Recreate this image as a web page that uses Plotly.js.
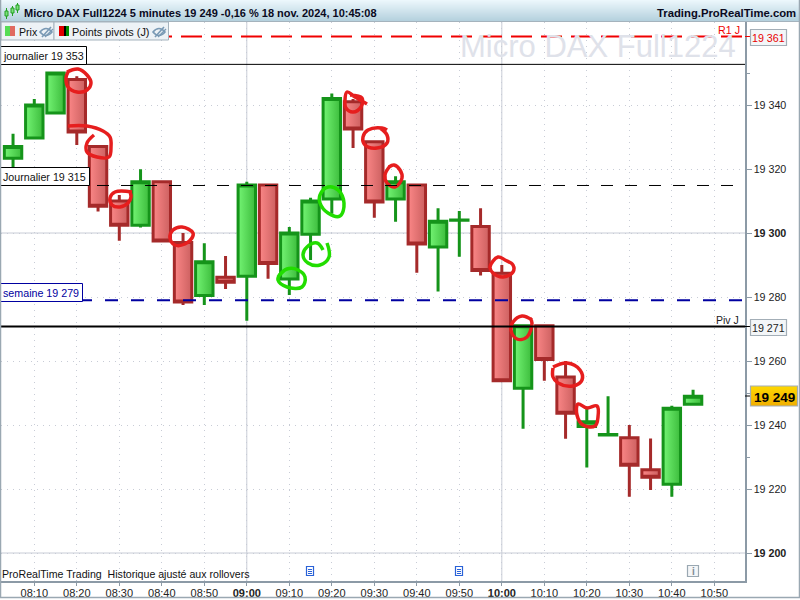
<!DOCTYPE html>
<html><head><meta charset="utf-8">
<script src="https://cdn.plot.ly/plotly-3.0.1.min.js"></script>
<style>html,body{margin:0;padding:0;background:#fff}#c{width:800px;height:600px}</style>
</head><body><div id="c"></div>
<script>
// ---- data ----
const times = ["08:05","08:10","08:15","08:20","08:25","08:30","08:35","08:40","08:45","08:50","08:55",
 "09:00","09:05","09:10","09:15","09:20","09:25","09:30","09:35","09:40","09:45","09:50","09:55",
 "10:00","10:05","10:10","10:15","10:20","10:25","10:30","10:35","10:40","10:45"];
const opens  = [19323.4,19329.7,19337.5,19348,19327,19310,19302.4,19316,19297,19280.5,19286.2,
 19286.5,19315,19285.6,19299.6,19310.6,19341,19328.5,19310.6,19315,19295.6,19304,19302,
 19287.4,19251.5,19271,19255,19239.5,19236.9,19236,19226,19221.5,19246.5];
const highs  = [19331,19341.9,19350,19349,19327,19311.9,19319.9,19316,19300,19296.8,19292.8,
 19316,19315,19301.9,19311,19343.6,19341.9,19329,19317.7,19315,19307.7,19306.9,19307.7,
 19290,19271,19271,19260,19245.7,19249,19240,19235.8,19246,19251];
const lows   = [19320.6,19329.7,19337.5,19327.5,19306.7,19297.6,19301.7,19297.5,19277.5,19277.5,19282.5,
 19272.6,19285.7,19280.6,19291.6,19306,19326.6,19304.8,19303.5,19287.6,19281.7,19292.6,19286.7,
 19253.8,19238.8,19253.8,19235.7,19226.7,19236.9,19217.6,19219.7,19217.6,19246.5];
const closes = [19327,19340,19350,19331.6,19308.4,19302.4,19316,19297.5,19278.4,19291,19284.6,
 19315,19290.5,19300,19310,19342,19332.5,19309.7,19316,19296.6,19303.7,19304.1,19288.3,
 19253.8,19271,19260.5,19243.7,19241,19237,19227.4,19223.7,19245.2,19249];
const xTickTimes = ["08:10","08:20","08:30","08:40","08:50","09:00","09:10","09:20","09:30","09:40","09:50",
 "10:00","10:10","10:20","10:30","10:40","10:50"];
const xBoldTimes = ["09:00","10:00"];
const yTickVals = [19200,19220,19240,19260,19280,19300,19320,19340];
const yBoldVals = [19200,19300];
const yMinorVals = [19230,19250,19350];
const levelR1 = 19361.4, levelJ1 = 19352.7, levelJ2 = 19314.85, levelW = 19279, levelPiv = 19270.8, lastPrice = 19249;
const titleLeft = "Micro DAX Full1224 5 minutes 19 249 -0,16 % 18 nov. 2024, 10:45:08";
const titleRight = "Trading.ProRealTime.com";
const watermark = "Micro DAX Full1224";
const footer = "ProRealTime Trading  Historique ajusté aux rollovers";

// hand-drawn rings, in window pixels
const redRings = [
 [[67,72],[78,69],[87,75],[91,83],[87,90],[77,92],[68,87],[66,78],[68,72]],
 [[68,126],[87,126],[103,131],[110,137],[111,147],[109,157],[97,157],[87,152],[87,143],[94,135]],
 [[132,192],[115,192],[110,198],[112,205],[120,207],[128,203],[131,197],[130,192]],
 [[193,233],[182,227],[173,230],[170,238],[175,245],[185,244],[192,238],[193,233]],
 [[367,104],[355,97],[347,92],[345,100],[346,108],[353,112],[361,107],[362,98],[350,95]],
 [[387,130],[382,128],[368,130],[363,137],[365,145],[377,148],[387,143],[387,135],[380,128]],
 [[390,166],[385,175],[387,183],[395,187],[402,178],[400,170],[394,165],[389,167]],
 [[490,267],[498,257],[505,260],[513,265],[513,272],[503,277],[493,273],[490,267]],
 [[532,320],[522,316],[513,322],[511,330],[517,339],[527,337],[532,323],[530,318]],
 [[553,367],[567,363],[580,370],[582,380],[573,386],[558,383],[553,377],[553,368]],
 [[578,404],[587,408],[597,406],[598,417],[595,426],[583,425],[577,415],[578,404]]
];
const greenRings = [
 [[278,277],[287,269],[298,270],[305,277],[302,287],[287,287],[278,280],[280,274]],
 [[327,243],[329,257],[320,265],[308,263],[303,255],[307,247],[317,243],[323,250]],
 [[320,195],[328,187],[338,190],[344,203],[340,216],[328,213],[320,203],[320,195]]
];

// ---- layout helpers ----
const DAY = "2024-11-18 ";
const L=1, R=745, T=22, B=581;
const px = x => (x-L)/(R-L);
const py = y => (B-y)/(B-T);
const d = t => DAY+t+":00";
const GREEN_LINE="#15941a", RED_LINE="#a52a2a";
const AX="#8c9aa6", GRID="#c8ccd6";

const shapes=[], annotations=[];
function rect(x0,y0,x1,y1,fill,line,lw,layer){
  shapes.push({type:'rect',xref:'paper',yref:'paper',x0:px(x0),x1:px(x1),y0:py(y0),y1:py(y1),
    fillcolor:fill||'rgba(0,0,0,0)',line:{color:line||'rgba(0,0,0,0)',width:line?(lw||1):0},layer:layer||'above'});
}
function seg(x0,y0,x1,y1,c,w,layer){
  shapes.push({type:'line',xref:'paper',yref:'paper',x0:px(x0),x1:px(x1),y0:py(y0),y1:py(y1),
    line:{color:c,width:w||1},layer:layer||'above'});
}
function level(v,c,w,dash){
  shapes.push({type:'line',xref:'paper',yref:'y',x0:0,x1:1,y0:v,y1:v,line:{color:c,width:w,dash:dash||'solid'},layer:'above'});
}
function txt(x,y,s,size,color,anchor,extra){
  annotations.push(Object.assign({xref:'paper',yref:'paper',x:px(x),y:py(y),text:s,showarrow:false,
    xanchor:anchor||'left',yanchor:'middle',xshift:0,font:{family:'Liberation Sans, Arial, sans-serif',size:size,color:color},
    borderpad:0,borderwidth:0},extra||{}));
}

// solid grid
yBoldVals.forEach(v=>shapes.push({type:'line',xref:'paper',yref:'y',x0:0,x1:1,y0:v,y1:v,line:{color:GRID,width:1},layer:'below'}));
xBoldTimes.forEach(t=>shapes.push({type:'line',xref:'x',yref:'paper',x0:d(t),x1:d(t),y0:0,y1:1,line:{color:GRID,width:1},layer:'below'}));

// watermark
txt(736,47,watermark,31,"#dfe2ea",'right',{captureevents:false});

// levels
level(levelR1,"#f00000",2,"21px,9px");
level(levelJ1,"#000000",1);
level(levelJ2,"#000000",1,"12px,12px");
level(levelW,"#0000a0",2,"13px,13px");
level(levelPiv,"#000000",2);

// level labels
rect(0.5,46.5,86.5,64.5,"#fff","#000",1);
txt(2.5,56,"journalier 19 353",10.7,"#111");
rect(0.5,167.5,89.5,185.5,"#fff","#000",1);
txt(2.5,177,"Journalier 19 315",10.7,"#111");
rect(0.5,283.5,82.5,301.5,"#fff","#0000a0",1);
txt(2.5,293,"semaine 19 279",10.7,"#0000a0");
txt(740,30,"R1 J",10.7,"#f00000",'right');
txt(739,320,"Piv J",10.5,"#222",'right');

// title bar (gradient in 1px bands)
for(let i=0;i<22;i++){
  const f=i/21, c=`rgb(${Math.round(236-58*f)},${Math.round(247-40*f)},${Math.round(252-32*f)})`;
  rect(0,i,800,i+1,c,null);
}
seg(0,21.5,800,21.5,"#a5b3bd",1);
// window icon
seg(6.5,8,6.5,19,"#22a022",1); rect(5,11,8,16,"#7be07b","#22a022",1);
seg(12.5,6,12.5,16,"#22a022",1); rect(11,8,14,13,"#7be07b","#22a022",1);
seg(17.5,3,17.5,13,"#22a022",1); rect(16,5,19,10,"#7be07b","#22a022",1);
txt(24,13,'<b>'+titleLeft+'</b>',11,"#0a0a1e",'left');
txt(796,13,'<b>'+titleRight+'</b>',11.3,"#0a0a1e",'right');

// legend strip
rect(1,22,54,40,"#edf2f6","#a5b3bd",1);
rect(54,22,168.5,40,"#edf2f6","#a5b3bd",1);
rect(5,26,10,36,"#55dd55",null);
rect(10,26,15,36,"#e06a60",null);
rect(59,26,64,36,"#e00000",null);
rect(64,26,66,36,"#000",null);
rect(66,26,69,36,"#009000",null);
txt(18.5,32,"Prix",10.6,"#111");
txt(72,32,"Points pivots (J)",10.9,"#111");
function eye(cx,cy){
  shapes.push({type:'path',xref:'paper',yref:'paper',layer:'above',
    path:`M ${px(cx-6)} ${py(cy)} Q ${px(cx)} ${py(cy-7)} ${px(cx+6)} ${py(cy)} Q ${px(cx)} ${py(cy+7)} ${px(cx-6)} ${py(cy)} Z`,
    line:{color:"#7a9ab5",width:1.6},fillcolor:"rgba(0,0,0,0)"});
  seg(cx-4,cy+5,cx+5,cy-5,"#7a9ab5",1.6);
  seg(cx-1,cy+5,cx+7,cy-3,"#7a9ab5",1.2);
}
eye(46,32); eye(159,32);

// right-hand price tags
seg(745,36.5,750,36.5,"#f00000",1);
rect(750.5,29.5,786.5,45.5,"#f3f6f8","#a3aeb7",1.2);
txt(768.5,38,"19 361",10.7,"#e80000",'center');
seg(745,326.5,750,326.5,"#000",1);
rect(750.5,319.5,786.5,335.5,"#f3f6f8","#a3aeb7",1.2);
txt(768.5,328,"19 271",10.7,"#222",'center');
seg(745,396,750,396,"#000",1);
for(let i=0;i<20;i++){ const f=i/19;
  rect(751,386+i,797,387+i,`rgb(${Math.round(255-15*f)},${Math.round(215-40*f)},0)`,null);}
rect(750.5,386,797.5,406,"rgba(0,0,0,0)","#a3aeb7",1.2);
txt(774,397,"<b>19 249</b>",13.5,"#000",'center');

// footer icons and text
txt(2,574,footer,10.6,"#111");
function doc(cx,cy){
  rect(cx-3.5,cy-4.5,cx+3.5,cy+4.5,"#fff","#2a62d8",1.2);
  seg(cx-2,cy-1.5,cx+2,cy-1.5,"#2a62d8",1);
  seg(cx-2,cy+0.5,cx+2,cy+0.5,"#2a62d8",1);
  seg(cx-2,cy+2.5,cx+2,cy+2.5,"#2a62d8",1);
}
doc(310,571); doc(459,571);
rect(687.5,565.5,698.5,576.5,"#f4f6f8","#9aa8b2",1.2);
txt(693,571.5,"<b>i</b>",10,"#7d8b96",'center');

// window border
seg(0.5,0,0.5,598,"#9aa8b2",1.5);
seg(799.5,0,799.5,598,"#9aa8b2",1.5);
seg(0,597.5,800,597.5,"#9aa8b2",1.5);

// ---- traces ----
const candle = {
  type:'candlestick', x:times.map(d), open:opens, high:highs, low:lows, close:closes,
  whiskerwidth:0, hoverinfo:'skip', showlegend:false,
  increasing:{line:{color:GREEN_LINE,width:3},fillcolor:"#55dd55"},
  decreasing:{line:{color:RED_LINE,width:3},fillcolor:"#e87474"}
};
const ring = (pts,color)=>({type:'scatter',mode:'lines',xaxis:'x2',yaxis:'y2',
  x:pts.map(p=>p[0]),y:pts.map(p=>p[1]),hoverinfo:'skip',showlegend:false,
  line:{color:color,width:3.5,shape:'spline',smoothing:1.1}});
const traces=[candle].concat(redRings.map(r=>ring(r,"#e61e1e")),greenRings.map(r=>ring(r,"#22dd00")));

const tickFontX={family:'Liberation Sans, Arial, sans-serif',size:11,color:'#222'};
const tickFontY={family:'Liberation Sans, Arial, sans-serif',size:10.7,color:'#222'};
const layout={
  width:800,height:600,margin:{l:L,r:800-R,t:T,b:600-B,pad:0},
  paper_bgcolor:'#fff',plot_bgcolor:'#fff',showlegend:false,boxgap:0.18,boxgroupgap:0,
  font:tickFontX,
  xaxis:{type:'date',range:[DAY+"08:02:10",DAY+"10:57:13"],rangeslider:{visible:false},
    tickmode:'array',tickvals:xTickTimes.map(d),
    ticktext:xTickTimes.map(t=>xBoldTimes.includes(t)?`<b>${t}</b>`:t),
    ticks:'outside',ticklen:3,tickcolor:AX,showline:true,linecolor:AX,linewidth:1.5,ticklabelstandoff:-2,
    showgrid:true,gridcolor:GRID,griddash:'1px,5px',gridwidth:1,zeroline:false,tickfont:tickFontX,fixedrange:true},
  yaxis:{side:'right',range:[19191.25,19365.94],tickmode:'array',tickvals:yTickVals,
    ticktext:yTickVals.map(v=>{const s='19 '+String(v).slice(2);return yBoldVals.includes(v)?`<b>${s}</b>`:s;}),
    ticks:'outside',ticklen:5,tickcolor:AX,showline:true,linecolor:AX,linewidth:1.5,
    minor:{tickmode:'array',tickvals:yMinorVals,ticks:'outside',ticklen:3,tickcolor:AX,showgrid:false},
    showgrid:true,gridcolor:GRID,griddash:'1px,5px',gridwidth:1,zeroline:false,tickfont:tickFontY,fixedrange:true},
  xaxis2:{overlaying:'x',range:[L,R],visible:false,fixedrange:true},
  yaxis2:{overlaying:'y',range:[B,T],visible:false,fixedrange:true},
  shapes:shapes,annotations:annotations
};

Plotly.newPlot('c',traces,layout,{staticPlot:true,displayModeBar:false}).then(gd=>{
  const svg=gd.querySelector('svg.main-svg');
  const NS='http://www.w3.org/2000/svg';
  let defs=svg.querySelector('defs');
  const mk=(id,a,b)=>{const g=document.createElementNS(NS,'linearGradient');g.setAttribute('id',id);
    [[0,a],[1,b]].forEach(([o,c])=>{const s=document.createElementNS(NS,'stop');s.setAttribute('offset',o);s.setAttribute('stop-color',c);g.appendChild(s);});defs.appendChild(g);};
  mk('gUp','#74f474','#3cbc3c'); mk('gDn','#fb8787','#cc6060');
  gd.querySelectorAll('.boxlayer path').forEach(p=>{
    const f=p.style.fill;
    if(f.includes('85, 221, 85')) p.style.fill='url(#gUp)';
    else if(f.includes('232, 116, 116')) p.style.fill='url(#gDn)';
  });
});
</script></body></html>
